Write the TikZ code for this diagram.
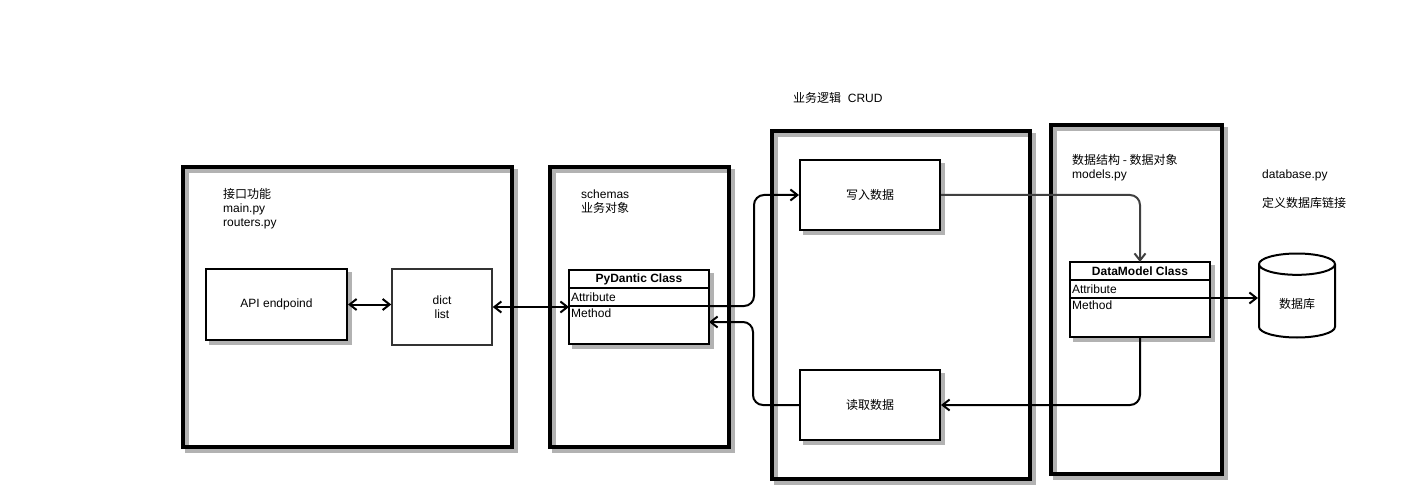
\documentclass[tikz,border=0pt]{standalone}
\usepackage{fontspec}
\setmainfont{Liberation Sans}
\newfontfamily\cjk{Noto Sans CJK SC}
\usetikzlibrary{positioning,arrows.meta,shapes.geometric}

\begin{document}
\begin{tikzpicture}[x=1pt, y=-1pt,
    txt/.style={font=\fontsize{12}{14}\selectfont},
    note/.style={txt, anchor=west, align=left, inner sep=0pt},
    layer/.style={draw, line width=4pt, outer sep=0pt,
        preaction={draw=black!30, line width=4pt, transform canvas={shift={(4pt,-4pt)}}}},
    shadowed/.style={preaction={fill=black!30, draw=black!30, transform canvas={shift={(4pt,-4pt)}}}},
    block/.style={txt, draw, fill=white, line width=2pt, align=center, shadowed},
    row/.style={txt, draw, fill=white, line width=2pt, outer sep=0pt, minimum width=140pt, shadowed},
    arr/.style={line width=2pt, -{Straight Barb[length=7pt, width=11pt]}},
    biarr/.style={line width=2pt, {Straight Barb[length=7pt, width=11pt]}-{Straight Barb[length=7pt, width=11pt]}}]

    \useasboundingbox (0,0) rectangle (1428,500);

    % Layers
    \node[layer, minimum width=329pt, minimum height=280pt] (apilayer) at (347.5,307) {};
    \node[layer, minimum width=179pt, minimum height=280pt] (schemalayer) at (639.5,307) {};
    \node[layer, minimum width=258pt, minimum height=348pt] (crudlayer) at (901,305) {};
    \node[layer, minimum width=171pt, minimum height=349pt] (modellayer) at (1136.5,299.5) {};

    % Layer texts
    \node[note] (apitext) at (223,209) {{\cjk 接口功能}\\main.py\\routers.py};
    \node[note] (schematext) at (581,202) {schemas\\\cjk 业务对象};
    \node[note] (crudtext) at (793,98) {{\cjk 业务逻辑}~~CRUD};
    \node[note] (modeltext) at (1072,167.5) {{\cjk 数据结构 - 数据对象}\\models.py};
    \node[note] (dbfile) at (1262,175) {database.py};
    \node[note] (dbinfo) at (1262,203) {\cjk 定义数据库链接};

    % Interface
    \node[block, minimum width=141pt, minimum height=71pt] (endpoint) at (276.5,304.5) {API endpoind};
    \node[txt, draw=black!80, fill=white, line width=1.5pt, align=center, minimum width=100pt, minimum height=76pt] (dict) at (442,307) {dict\\ list};

    % PyDantic class
    \node[row, minimum height=18pt, font=\fontsize{12}{14}\selectfont\bfseries] (pydhead) at (639,279) {PyDantic Class};
    \node[row, minimum height=18pt, text width=136pt, inner xsep=2pt, below=0pt of pydhead] (pydattr) {Attribute};
    \node[row, minimum height=38pt, below=0pt of pydattr,
        label={[txt, anchor=north west, inner sep=2pt, yshift=-1pt]north west:Method}] (pydmeth) {};

    % CRUD
    \node[block, minimum width=140pt, minimum height=70pt] (write) at (870,195) {\cjk 写入数据};
    \node[block, minimum width=140pt, minimum height=70pt] (read) at (870,405) {\cjk 读取数据};

    % DataModel class
    \node[row, minimum height=18pt, font=\fontsize{12}{14}\selectfont\bfseries] (dmhead) at (1140,271) {DataModel Class};
    \node[row, minimum height=18pt, text width=136pt, inner xsep=2pt, below=0pt of dmhead] (dmattr) {Attribute};
    \node[row, minimum height=39pt, below=0pt of dmattr,
        label={[txt, anchor=north west, inner sep=2pt, yshift=-1pt]north west:Method}] (dmmeth) {};

    % Database
    \node[txt, cylinder, shape border rotate=90, aspect=0.5, draw, line width=2pt, anchor=shape center,
        minimum width=76pt, minimum height=84pt] (db) at (1297,295.5) {\cjk 数据库};

    % Edges
    \draw[biarr] (endpoint.east) -- (endpoint.east -| dict.west);
    \draw[biarr] (dict.east) -- (dict.east -| pydattr.west);
    \draw[arr, rounded corners=10pt] (pydattr.south east) -- ++(45,0) |- (write.west);
    \draw[arr, rounded corners=10pt] (read.west) -- ++(-46,0) |- ([yshift=3pt]pydmeth.east);
    \draw[arr, draw=black!75, rounded corners=10pt] (write.east) -| (dmhead.north);
    \draw[arr, rounded corners=10pt] (dmmeth.south) |- (read.east);
    \draw[arr] (dmattr.south east) -- (dmattr.south east -| db.west);

\end{tikzpicture}
\end{document}
